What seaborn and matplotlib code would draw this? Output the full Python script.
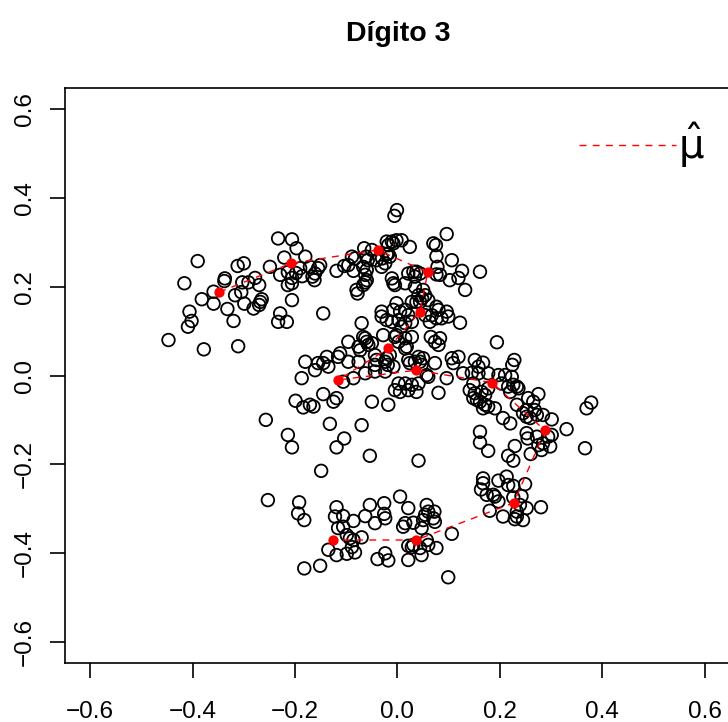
import numpy as np
import pandas as pd
import matplotlib
matplotlib.use("Agg")
import matplotlib.pyplot as plt
import seaborn as sns
from matplotlib.lines import Line2D

# ---------------- data ----------------
upper_left_arm = [
    (-0.233,0.309),(-0.206,0.307),(-0.197,0.287),(-0.390,0.258),(-0.221,0.266),(-0.312,0.247),
    (-0.300,0.253),(-0.249,0.245),(-0.337,0.219),(-0.338,0.213),(-0.416,0.208),(-0.303,0.210),
    (-0.278,0.220),(-0.270,0.204),(-0.291,0.210),(-0.229,0.227),(-0.214,0.233),(-0.206,0.220),
    (-0.198,0.231),(-0.190,0.242),(-0.186,0.224),(-0.214,0.204),(-0.206,0.208),(-0.359,0.189),
    (-0.382,0.172),(-0.359,0.162),(-0.317,0.181),(-0.305,0.188),(-0.299,0.162),(-0.281,0.151),
    (-0.268,0.166),(-0.270,0.159),(-0.265,0.172),(-0.332,0.150),(-0.206,0.170),(-0.406,0.144),
    (-0.402,0.123),(-0.409,0.110),(-0.320,0.123),(-0.229,0.140),(-0.233,0.121),(-0.216,0.121),
    (-0.447,0.080),(-0.378,0.059),(-0.311,0.066),
]
left_scatter = [
    (-0.180,0.031),(-0.187,-0.006),(-0.199,-0.057),(-0.184,-0.072),(-0.257,-0.100),
    (-0.214,-0.134),(-0.206,-0.162),
]
top_arc = [
    (-0.001,0.373),(-0.006,0.360),(0.096,0.319),(0.070,0.298),(0.075,0.294),(0.106,0.260),
    (0.076,0.269),(0.078,0.245),(0.076,0.228),(0.083,0.227),(0.102,0.215),(0.008,0.305),
    (-0.002,0.305),(-0.011,0.302),(-0.008,0.298),(-0.021,0.302),(-0.018,0.294),(0.024,0.290),
    (-0.065,0.287),(-0.050,0.283),(-0.061,0.268),(-0.058,0.260),(-0.089,0.268),(-0.083,0.264),
    (-0.104,0.247),(-0.096,0.249),(-0.119,0.236),(-0.086,0.236),(-0.067,0.245),(-0.060,0.238),
    (-0.063,0.227),(-0.060,0.215),(-0.063,0.210),(-0.067,0.204),(-0.080,0.193),(-0.078,0.185),
    (-0.041,0.260),(-0.030,0.264),(-0.024,0.253),(-0.031,0.245),(-0.021,0.273),(-0.015,0.268),
    (-0.018,0.275),(-0.180,0.268),(-0.171,0.245),(-0.161,0.230),(-0.155,0.242),(-0.151,0.249),
    (-0.166,0.223),(-0.162,0.215),(0.031,0.234),(0.037,0.234),(0.044,0.230),(0.034,0.223),
    (0.021,0.230),(-0.011,0.219),(-0.008,0.208),(-0.005,0.204),(0.015,0.208),(0.034,0.200),
    (0.050,0.193),(0.041,0.181),(0.048,0.174),(0.054,0.181),(-0.002,0.163),(-0.008,0.148),
    (0.005,0.144),(0.015,0.148),(0.028,0.166),(0.037,0.166),(0.044,0.166),(0.060,0.170),
    (0.076,0.155),(0.080,0.148),(0.096,0.144),(0.099,0.133),(0.086,0.129),(0.076,0.129),
    (0.067,0.136),(0.054,0.136),(0.063,0.121),(-0.031,0.144),(-0.031,0.133),(-0.021,0.125),
    (-0.011,0.121),(0.002,0.125),(0.015,0.118),(0.008,0.110),(0.028,0.121),(0.021,0.136),
    (-0.145,0.140),(-0.070,0.118),(0.126,0.236),(0.119,0.220),(0.161,0.234),(0.132,0.193),
    (0.122,0.119),
]
middle_bar = [
    (-0.096,0.076),(-0.067,0.087),(-0.060,0.076),(-0.063,0.084),(-0.076,0.065),(-0.073,0.057),
    (-0.057,0.069),(-0.050,0.073),(-0.028,0.091),(-0.005,0.087),(0.002,0.076),(-0.002,0.091),
    (0.015,0.084),(0.018,0.065),(0.028,0.087),(0.065,0.087),(0.073,0.076),(0.080,0.069),
    (0.083,0.084),(-0.112,0.050),(-0.116,0.042),(-0.138,0.042),(-0.145,0.028),(-0.135,0.020),
    (-0.155,0.028),(-0.161,0.012),(-0.096,0.031),(-0.076,0.031),(-0.044,0.046),(-0.041,0.035),
    (-0.044,0.024),(-0.024,0.031),(-0.019,0.024),(-0.021,0.039),(-0.015,0.046),(0.015,0.061),
    (0.041,0.042),(0.050,0.039),(0.044,0.031),(0.047,0.024),(0.034,0.031),(0.021,0.035),
    (0.024,0.028),(0.073,0.028),(0.106,0.039),(0.109,0.028),(0.060,-0.003),(0.057,0.001),
    (0.096,-0.006),(-0.086,-0.006),(-0.063,0.005),(-0.044,0.009),(-0.024,0.009),(-0.008,0.020),
    (0.002,-0.018),(-0.005,-0.033),(0.005,-0.037),(0.015,-0.018),(0.021,-0.033),(0.028,-0.021),
    (0.041,-0.018),(0.037,-0.037),(0.080,-0.039),(-0.106,-0.014),(-0.145,-0.042),(-0.119,-0.051),
    (-0.125,-0.059),(-0.171,-0.066),(-0.164,-0.070),(-0.050,-0.059),(-0.018,-0.066),
    (-0.132,-0.109),(-0.070,-0.112),(-0.104,-0.142),(-0.119,-0.162),(-0.054,-0.181),(0.041,-0.192),
]
right_arc = [
    (0.194,0.075),(0.119,0.042),(0.151,0.035),(0.167,0.029),(0.158,0.020),(0.228,0.035),
    (0.224,0.024),(0.128,0.005),(0.145,0.006),(0.158,0.005),(0.177,0.005),(0.197,0.001),
    (0.210,0.001),(0.223,-0.003),(0.148,-0.018),(0.141,-0.033),(0.151,-0.040),(0.164,-0.037),
    (0.177,-0.029),(0.171,-0.044),(0.203,-0.018),(0.216,-0.025),(0.226,-0.021),(0.233,-0.025),
    (0.220,-0.037),(0.236,-0.029),(0.148,-0.051),(0.155,-0.055),(0.161,-0.059),(0.171,-0.066),
    (0.177,-0.070),(0.190,-0.074),(0.167,-0.074),(0.206,-0.096),(0.220,-0.108),(0.275,-0.042),
    (0.255,-0.051),(0.265,-0.059),(0.233,-0.066),(0.252,-0.078),(0.268,-0.078),(0.245,-0.085),
    (0.252,-0.093),(0.259,-0.096),(0.272,-0.089),(0.284,-0.089),(0.301,-0.099),(0.330,-0.121),
    (0.369,-0.074),(0.378,-0.061),(0.252,-0.130),(0.254,-0.142),(0.272,-0.138),(0.275,-0.157),
    (0.284,-0.153),(0.294,-0.138),(0.301,-0.134),(0.298,-0.160),(0.281,-0.168),(0.161,-0.127),
    (0.161,-0.151),(0.177,-0.170),(0.229,-0.159),(0.216,-0.181),(0.226,-0.192),(0.260,-0.177),
    (0.366,-0.164),
]
lower_arc = [
    (0.167,-0.232),(0.167,-0.243),(0.163,-0.257),(0.197,-0.237),(0.213,-0.228),(0.216,-0.247),
    (0.226,-0.249),(0.249,-0.245),(0.174,-0.269),(0.187,-0.269),(0.197,-0.284),(0.190,-0.273),
    (0.226,-0.275),(0.242,-0.272),(0.239,-0.292),(0.252,-0.299),(0.233,-0.307),(0.233,-0.318),
    (0.245,-0.326),(0.229,-0.324),(0.206,-0.318),(0.180,-0.305),(0.280,-0.297),
]
bottom_bar = [
    (-0.253,-0.281),(-0.192,-0.286),(-0.194,-0.311),(-0.182,-0.326),(-0.182,-0.435),
    (-0.149,-0.215),(0.005,-0.273),(0.021,-0.299),(-0.054,-0.292),(-0.026,-0.288),
    (-0.063,-0.317),(-0.044,-0.333),(-0.026,-0.312),(-0.024,-0.322),(-0.119,-0.297),
    (-0.122,-0.318),(-0.106,-0.317),(-0.086,-0.328),(-0.116,-0.344),(-0.106,-0.341),
    (-0.099,-0.360),(-0.093,-0.367),(-0.086,-0.371),(-0.070,-0.365),(-0.135,-0.393),
    (-0.119,-0.405),(-0.099,-0.402),(-0.083,-0.399),(-0.089,-0.387),(-0.151,-0.429),
    (-0.039,-0.414),(-0.024,-0.401),(-0.018,-0.417),(0.011,-0.341),(0.015,-0.333),
    (0.031,-0.332),(0.047,-0.344),(0.050,-0.326),(0.054,-0.314),(0.060,-0.307),
    (0.072,-0.307),(0.070,-0.322),(0.073,-0.330),(0.057,-0.292),(0.021,-0.384),
    (0.028,-0.387),(0.031,-0.382),(0.044,-0.389),(0.057,-0.371),(0.060,-0.382),
    (0.076,-0.389),(0.047,-0.405),(0.021,-0.416),(0.099,-0.455),(0.106,-0.357),
]

# principal curve estimate (mu hat), in order
mu_x = [-0.348, -0.208, -0.039, 0.059, 0.044, -0.018, -0.116, 0.037, 0.184, 0.288, 0.227, 0.036, -0.125]
mu_y = [0.188, 0.253, 0.283, 0.233, 0.144, 0.061, -0.010, 0.012, -0.016, -0.124, -0.287, -0.371, -0.371]

tick_vals = [-0.6, -0.4, -0.2, 0.0, 0.2, 0.4, 0.6]
tick_labels = ["\u22120.6", "\u22120.4", "\u22120.2", "0.0", "0.2", "0.4", "0.6"]
title_text = "Dígito 3"

# ---------------- plot ----------------
sns.set_theme(style="ticks")
plt.rcParams["font.family"] = ["Liberation Sans", "DejaVu Sans"]
plt.rcParams["text.color"] = "black"
plt.rcParams["mathtext.fontset"] = "dejavusans"

pts = upper_left_arm + left_scatter + top_arc + middle_bar + right_arc + lower_arc + bottom_bar
df = pd.DataFrame(pts, columns=["x", "y"])
mu = pd.DataFrame({"x": mu_x, "y": mu_y})

W, H = 728, 722
fig = plt.figure(figsize=(W / 100, H / 100), dpi=100)
ax = fig.add_axes([65 / W, (H - 663.3) / H, (730 - 65) / W, (663.3 - 87.7) / H])

sns.scatterplot(data=df, x="x", y="y", ax=ax, marker="o", s=82,
                facecolors="none", edgecolor="black", linewidth=1.3, legend=False)
sns.lineplot(data=mu, x="x", y="y", ax=ax, sort=False, estimator=None, color="red",
             linewidth=1.0, legend=False)
ax.lines[-1].set_dashes([5, 4.5])
sns.scatterplot(data=mu, x="x", y="y", ax=ax, color="red", s=55, linewidth=0, legend=False, zorder=5)

ax.set_xlim(-0.649, 0.649)
ax.set_ylim(-0.649, 0.649)
ax.set_xticks(tick_vals)
ax.set_xticklabels(tick_labels)
ax.set_yticks(tick_vals)
ax.set_yticklabels(tick_labels)
ax.set_xlabel("")
ax.set_ylabel("")

for s in ["left", "bottom", "top", "right"]:
    ax.spines[s].set_visible(True)
    ax.spines[s].set_color("black")
    ax.spines[s].set_linewidth(1.2)

ax.tick_params(axis="both", direction="out", length=10.8, width=1.2, color="black",
               labelsize=17.5, labelcolor="black")
ax.tick_params(axis="x", pad=16)
ax.tick_params(axis="y", pad=10)
for lab in ax.get_yticklabels():
    lab.set_rotation(90)
    lab.set_va("center")
    lab.set_ha("right")

fig.text(398 / W, 1 - 41 / H, title_text, ha="center", va="baseline",
         fontsize=20.5, fontweight="bold", color="black")

handle = Line2D([0], [0], color="red", linewidth=1.0, dashes=[5, 4.5])
ax.legend([handle], [r"$\hat{\mathrm{\mu}}$"], loc="center left", frameon=False,
          bbox_to_anchor=(579 / W, 1 - 145 / H), bbox_transform=fig.transFigure,
          borderaxespad=0, borderpad=0, handlelength=2.4, handletextpad=0.05,
          fontsize=29)

fig.savefig("out.png", dpi=100)
